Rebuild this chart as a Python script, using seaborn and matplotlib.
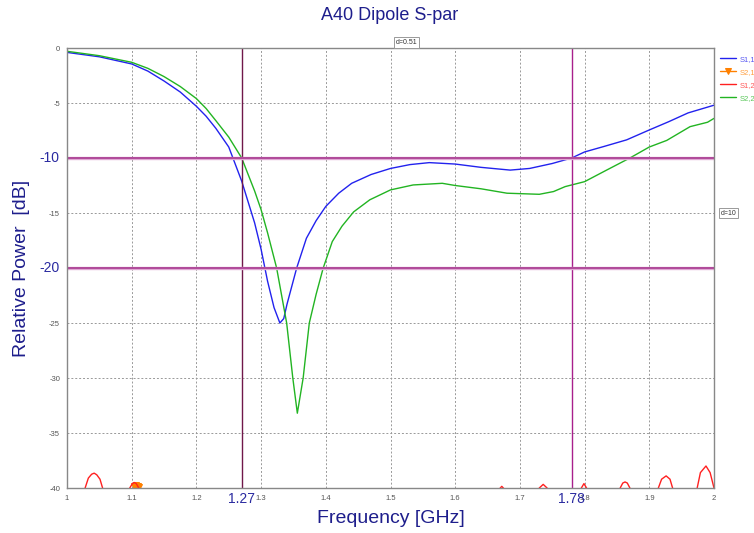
import numpy as np
import pandas as pd
import matplotlib
matplotlib.use("Agg")
import matplotlib.pyplot as plt
import matplotlib.transforms as mtransforms
import seaborn as sns

# S1,1 (blue)
s11_freq = [1.00, 1.05, 1.10, 1.125, 1.15, 1.175, 1.20, 1.215, 1.23, 1.25, 1.27, 1.29, 1.30,
            1.31, 1.32, 1.329, 1.335, 1.34, 1.355, 1.37, 1.385, 1.40, 1.42, 1.44, 1.47, 1.50,
            1.53, 1.56, 1.60, 1.64, 1.685, 1.715, 1.75, 1.78, 1.80, 1.83, 1.865, 1.90, 1.93,
            1.96, 2.00]
s11_db = [-0.40, -0.80, -1.45, -2.1, -3.0, -4.0, -5.3, -6.2, -7.3, -9.0, -12.1, -15.9, -18.3,
          -21.2, -23.6, -25.0, -24.6, -23.3, -20.0, -17.3, -15.7, -14.4, -13.2, -12.3, -11.5, -10.95,
          -10.6, -10.42, -10.55, -10.85, -11.1, -10.95, -10.5, -10.0, -9.45, -8.95, -8.35, -7.45, -6.7,
          -5.9, -5.2]

# S2,2 (green)
s22_freq = [1.00, 1.05, 1.10, 1.125, 1.15, 1.175, 1.20, 1.215, 1.23, 1.25, 1.27, 1.29, 1.30,
            1.31, 1.324, 1.3395, 1.349, 1.356, 1.365, 1.3745, 1.385, 1.396, 1.41, 1.425, 1.443,
            1.468, 1.50, 1.535, 1.58, 1.60, 1.64, 1.68, 1.73, 1.752, 1.77, 1.80, 1.834, 1.87,
            1.90, 1.927, 1.963, 1.99, 2.00]
s22_db = [-0.30, -0.70, -1.3, -1.85, -2.6, -3.5, -4.6, -5.5, -6.6, -8.1, -10.0, -13.0, -14.7,
          -16.8, -20.0, -25.0, -30.0, -33.2, -30.0, -25.0, -22.4, -20.0, -17.6, -16.2, -14.9,
          -13.8, -12.9, -12.45, -12.3, -12.5, -12.8, -13.2, -13.3, -13.05, -12.6, -12.15, -11.1, -10.0,
          -9.0, -8.4, -7.15, -6.75, -6.4]

# S1,2 (red) - mostly below the -40 floor, only small arches show
s12_freq = [1.000, 1.010, 1.022, 1.028, 1.033, 1.038, 1.042, 1.046, 1.051, 1.055, 1.062, 1.075,
            1.088, 1.097, 1.101, 1.104, 1.107, 1.111, 1.120, 1.200, 1.350, 1.500, 1.620, 1.665,
            1.672, 1.679, 1.700, 1.725, 1.730, 1.736, 1.742, 1.748, 1.770, 1.792, 1.795, 1.799,
            1.803, 1.807, 1.830, 1.850, 1.855, 1.859, 1.8625, 1.866, 1.870, 1.875, 1.895, 1.910,
            1.914, 1.919, 1.926, 1.932, 1.936, 1.941, 1.958, 1.970, 1.974, 1.979, 1.9876, 1.994,
            2.000]
s12_db = [-50, -47, -42, -40.0, -39.1, -38.75, -38.65, -38.8, -39.2, -40.0, -42.5, -47,
          -42.5, -40.0, -39.6, -39.5, -39.6, -40.0, -42, -50, -55, -52, -45, -40.3,
          -39.85, -40.3, -43, -40.8, -40.0, -39.67, -40.0, -40.8, -44, -40.6, -40.0, -39.6,
          -40.0, -40.6, -45, -41, -40.0, -39.55, -39.45, -39.55, -40.0, -41, -46, -41,
          -40.0, -39.2, -38.9, -39.2, -40.0, -41.5, -46, -41.5, -40.0, -38.6, -38.0, -38.6,
          -40.0]

# S2,1 (orange) - only a few markers just above the floor
s21_freq = [1.103, 1.106, 1.109, 1.112]
s21_db = [-39.85, -39.75, -39.8, -39.9]

marker_freqs = [1.27, 1.78]
marker_levels = [-10, -20]

sns.set_style("white")
plt.rcParams['font.family'] = ['Liberation Sans', 'DejaVu Sans']

navy = '#1e1e8c'
fig = plt.figure(figsize=(7.54, 5.33), dpi=100)
ax = fig.add_axes([67 / 754, 45 / 533, 647 / 754, 440 / 533])

sns.lineplot(x=s11_freq, y=s11_db, color='#2222ee', lw=1.0, label='S1,1', ax=ax)
sns.lineplot(x=s21_freq, y=s21_db, color='#ff8000', lw=1.0, marker='v', markersize=5,
             markeredgecolor='#ff8000', label='S2,1', ax=ax)
sns.lineplot(x=s12_freq, y=s12_db, color='#ff2020', lw=1.0, label='S1,2', ax=ax)
sns.lineplot(x=s22_freq, y=s22_db, color='#22b422', lw=1.0, label='S2,2', ax=ax)

ax.set_xlim(1, 2)
ax.set_ylim(-40, 0)
xt = np.round(np.arange(1.0, 2.01, 0.1), 1)
yt = np.arange(-40, 1, 5)
ax.set_xticks(xt)
ax.set_yticks(yt)
ax.set_xticklabels(['%g' % v for v in xt])
ax.set_yticklabels(['' if v in marker_levels else '%g' % v for v in yt])
ax.tick_params(labelsize=5.5, labelcolor='#555555', length=2, color='#888888', pad=3)
ax.grid(True, linestyle=(0, (2, 2)), color='#999999', lw=0.7)
for sp in ax.spines.values():
    sp.set_color('#888888')
    sp.set_linewidth(1.0)

# marker lines
ax.axvline(marker_freqs[0], color='#70184a', lw=1.0)
ax.axvline(marker_freqs[1], color='#a8208c', lw=1.0)
for lvl in marker_levels:
    ax.axhline(lvl, color='#e0a8d4', lw=2.4)
    ax.axhline(lvl, color='#a3318a', lw=1.1)

bx = mtransforms.blended_transform_factory(ax.transData, ax.transAxes)
by = mtransforms.blended_transform_factory(ax.transAxes, ax.transData)
for f in marker_freqs:
    ax.text(f, -0.008, '%g' % f, transform=bx, ha='center', va='top', fontsize=10,
            color='#2a2aa0')
for lvl in marker_levels:
    ax.text(-0.012, lvl, '%g' % lvl, transform=by, ha='right', va='center', fontsize=10,
            color='#2a2aa0')

box = dict(boxstyle='square,pad=0.25', fc='white', ec='#999999', lw=0.7)
ax.text(np.mean(marker_freqs), 1.013, 'd=%.2f' % (marker_freqs[1] - marker_freqs[0]),
        transform=bx, ha='center', va='center', fontsize=5, color='#333333', bbox=box)
ax.text(1.01, np.mean(marker_levels), 'd=%g' % (marker_levels[0] - marker_levels[1]),
        transform=by, ha='left', va='center', fontsize=5, color='#333333', bbox=box)

fig.text(0.517, 0.970, 'A40 Dipole S-par', ha='center', va='center', fontsize=13, color=navy)
ax.set_xlabel('Frequency [GHz]', fontsize=14, color=navy, labelpad=6)
ax.set_ylabel('Relative Power  [dB]', fontsize=14, color=navy, labelpad=14)

leg = ax.legend(loc='upper left', bbox_to_anchor=(1.005, 0.99), frameon=False, fontsize=5.5,
                handlelength=2.0, labelspacing=0.75, handletextpad=0.5, borderaxespad=0)
for txt, line in zip(leg.get_texts(), leg.get_lines()):
    txt.set_color(line.get_color())
    txt.set_alpha(0.75)

fig.savefig('out.png', dpi=100)
